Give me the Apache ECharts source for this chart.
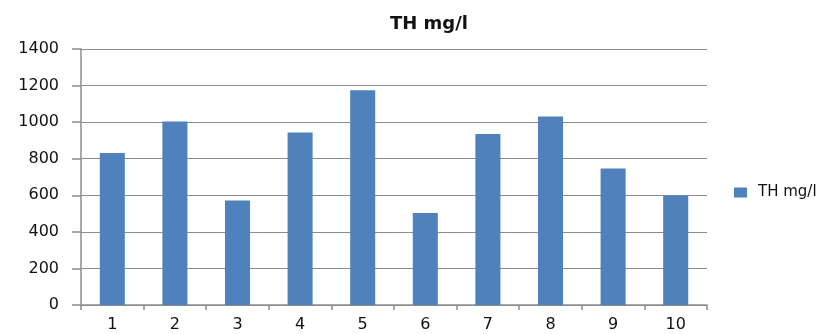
<!DOCTYPE html>
<html>
<head>
<meta charset="utf-8">
<script src="https://cdn.jsdelivr.net/npm/echarts@6/dist/echarts.min.js"></script>
<style>html,body{margin:0;padding:0;background:#fff}#c{width:832px;height:334px}</style>
</head>
<body>
<div id="c"></div>
<script>
const categories = ['1','2','3','4','5','6','7','8','9','10'];
const thValues = [831, 1004, 572, 944, 1174, 503, 935, 1031, 747, 599];
const seriesName = 'TH mg/l';
const titleText = 'TH mg/l';

const chart = echarts.init(document.getElementById('c'), null, {renderer: 'canvas'});
chart.setOption({
  animation: false,
  backgroundColor: '#fff',
  title: {
    text: titleText,
    left: 424, top: 10, textAlign: 'center',
    textStyle: {fontFamily: 'DejaVu Sans', fontWeight: 'bold', fontSize: 18, color: '#111'}
  },
  legend: {
    left: 729, top: 180, itemWidth: 13, itemHeight: 10, itemGap: 6,
    icon: 'rect',
    textStyle: {fontFamily: 'DejaVu Sans', fontSize: 15, color: '#111', padding: [0,0,0,6]}
  },
  grid: {left: 81, right: 125, top: 49, bottom: 29, containLabel: false},
  xAxis: {
    type: 'category', data: categories,
    axisLine: {lineStyle: {color: '#8c8c8c', width: 1.5}},
    axisTick: {show: true, length: 5, lineStyle: {color: '#8c8c8c', width: 1.5}},
    axisLabel: {fontFamily: 'DejaVu Sans', fontSize: 16, color: '#111', margin: 12}
  },
  yAxis: {
    type: 'value', min: 0, max: 1400, interval: 200,
    axisLine: {show: true, lineStyle: {color: '#8c8c8c', width: 1.5}},
    axisTick: {show: true, length: 9, lineStyle: {color: '#8c8c8c', width: 1.5}},
    splitLine: {lineStyle: {color: '#8c8c8c', width: 1.2}},
    axisLabel: {fontFamily: 'DejaVu Sans', fontSize: 16, color: '#111', margin: 22,
      formatter: function (v) { return String(v); }}
  },
  series: [{
    name: seriesName, type: 'bar', data: thValues,
    barCategoryGap: '60%',
    itemStyle: {color: '#4F81BD'}
  }]
});
</script>
</body>
</html>
